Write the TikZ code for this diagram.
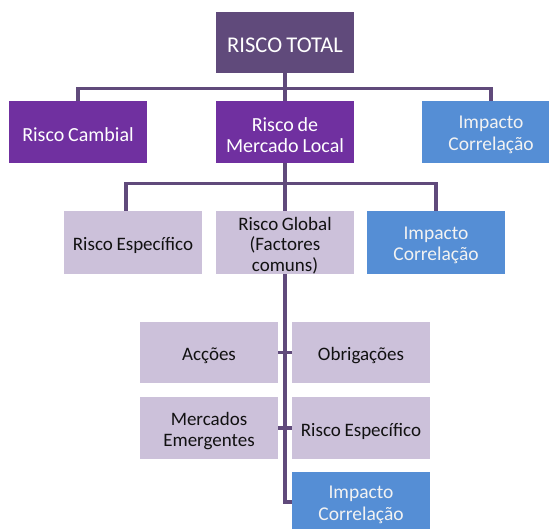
\documentclass[tikz,border=0pt]{standalone}
\usepackage{fontspec}
\setmainfont[WordSpace=0.85]{Carlito}
\definecolor{rootfill}{HTML}{604A7B}
\definecolor{violetfill}{HTML}{7030A0}
\definecolor{bluefill}{HTML}{558ED5}
\definecolor{lavfill}{HTML}{CCC1DA}
\definecolor{linkcol}{HTML}{604A7B}
\definecolor{darktext}{HTML}{111111}
\tikzset{
  box/.style={rectangle, inner sep=0pt, minimum width=138pt, minimum height=62pt},
  txt/.style={align=center, inner sep=0pt, yshift=-3pt},
  rootbox/.style={box, fill=rootfill, minimum height=61pt},
  violetbox/.style={box, fill=violetfill},
  bluebox/.style={box, fill=bluefill},
  lavbox/.style={box, fill=lavfill},
  roottxt/.style={txt, text=white, font=\fontsize{22.5}{24}\selectfont},
  violettxt/.style={txt, text=white, font=\fontsize{20}{21.5}\selectfont},
  bluetxt/.style={txt, text=white!95!black, font=\fontsize{19.5}{21.5}\selectfont},
  lavtxt/.style={txt, text=darktext, font=\fontsize{19}{21.5}\selectfont},
  link/.style={draw=linkcol, line width=3.3pt}
}
\begin{document}
\begin{tikzpicture}[x=1pt,y=-1pt]
  \clip (0,0) rectangle (549,529);
  \fill[white] (0,0) rectangle (549,529);

  % level 0
  \node[rootbox, label={[roottxt]center:RISCO TOTAL}] (total) at (285,42.5) {};

  % level 1
  \node[violetbox, label={[violettxt]center:Risco Cambial}] (cambial) at (78,132) {};
  \node[violetbox, label={[violettxt]center:{Risco de\\Mercado Local}}] (mercado) at (285,132) {};
  \node[bluebox, label={[bluetxt]center:{Impacto\\Correlação}}] (imp1) at (491,132) {};

  % level 2
  \node[lavbox, minimum height=63pt, label={[lavtxt]center:Risco Específico}] (esp) at (133,242.5) {};
  \node[lavbox, minimum height=63pt,
        label={[lavtxt, font=\fontsize{19}{20.5}\selectfont]center:{Risco Global\\(Factores\\comuns)}}] (global) at (285,242.5) {};
  \node[bluebox, minimum height=63pt, label={[bluetxt]center:{Impacto\\Correlação}}] (imp2) at (436,242.5) {};

  % level 3
  \node[lavbox, minimum height=61pt, label={[lavtxt]center:Acções}] (accoes) at (209,352.5) {};
  \node[lavbox, minimum height=61pt, label={[lavtxt]center:Obrigações}] (obrig) at (361,352.5) {};
  \node[lavbox, label={[lavtxt]center:{Mercados\\Emergentes}}] (emerg) at (209,428) {};
  \node[lavbox, label={[lavtxt]center:Risco Específico}] (resp) at (361,428) {};
  \node[bluebox, minimum height=60pt, label={[bluetxt]center:{Impacto\\Correlação}}] (imp3) at (361,502) {};

  % connectors
  \draw[link] (total.south) -- (mercado.north);
  \draw[link] (cambial.north) -- ++(0,-12) -| (imp1.north);

  \draw[link] (mercado.south) -- (global.north);
  \coordinate (espTop) at ([xshift=-7pt]esp.north);
  \draw[link] (espTop) -- ++(0,-27) -| (imp2.north);

  \draw[link] (global.south) |- (imp3.west);
  \draw[link] (accoes.east) -- (obrig.west);
  \draw[link] (emerg.east) -- (resp.west);
\end{tikzpicture}
\end{document}
